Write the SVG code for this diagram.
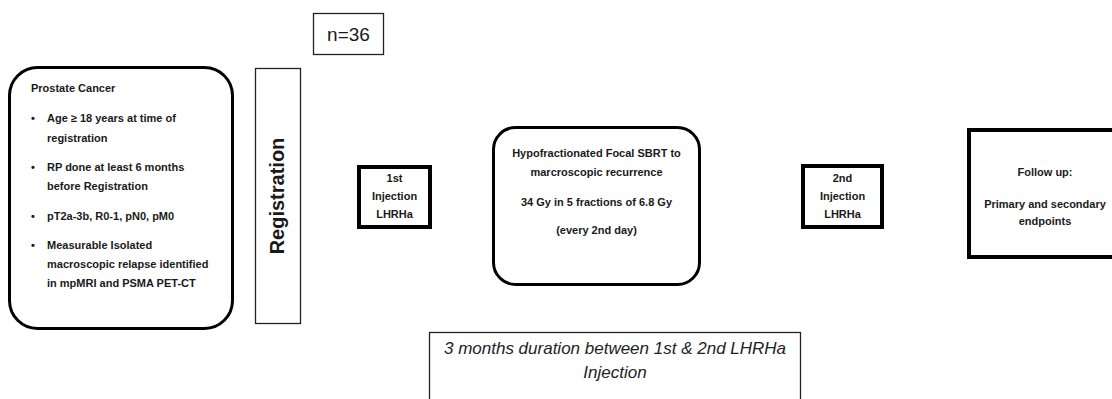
<svg xmlns="http://www.w3.org/2000/svg" width="1112" height="399" viewBox="0 0 1112 399">
<style>
.b{font-family:"Liberation Sans",Arial,sans-serif;font-weight:bold;font-size:11px;fill:#1a1a1a}
.c{text-anchor:middle}
.thin{fill:#fff;stroke:#222;stroke-width:1.3}
.thick{fill:#fff;stroke:#000;stroke-width:4}
.round{fill:#fff;stroke:#000;stroke-width:3}
</style>
<rect width="1112" height="399" fill="#fff"/>
<g id="criteria">
<rect class="round" x="9.5" y="67.5" width="223" height="261" rx="28"/>
<text class="b" x="31" y="92">Prostate Cancer</text>
<g class="b">
<text x="31" y="122">•</text><text x="47" y="122">Age ≥ 18 years at time of</text>
<text x="47" y="142">registration</text>
<text x="31" y="171">•</text><text x="47" y="171">RP done at least 6 months</text>
<text x="47" y="190">before Registration</text>
<text x="31" y="220">•</text><text x="47" y="220">pT2a-3b, R0-1, pN0, pM0</text>
<text x="31" y="249">•</text><text x="47" y="249">Measurable Isolated</text>
<text x="47" y="268">macroscopic relapse identified</text>
<text x="47" y="287">in mpMRI and PSMA PET-CT</text>
</g>
</g>
<g id="n36">
<rect class="thin" x="313.5" y="13.5" width="70" height="41"/>
<text x="348.5" y="41" font-family="Liberation Sans,Arial,sans-serif" font-size="19" fill="#1a1a1a" text-anchor="middle">n=36</text>
</g>
<g id="registration">
<rect class="thin" x="255.5" y="68.5" width="45" height="255"/>
<text transform="translate(284 196) rotate(-90)" font-family="Liberation Sans,Arial,sans-serif" font-weight="bold" font-size="20" fill="#1a1a1a" text-anchor="middle">Registration</text>
</g>
<g id="injection1">
<rect class="thick" x="359" y="167" width="71" height="60"/>
<text class="b c" x="394.5" y="182">1st</text>
<text class="b c" x="394.5" y="200">Injection</text>
<text class="b c" x="394.5" y="218">LHRHa</text>
</g>
<g id="sbrt">
<rect class="round" x="493.5" y="127.5" width="206" height="157" rx="22"/>
<text class="b c" x="596.5" y="157">Hypofractionated Focal SBRT to</text>
<text class="b c" x="596.5" y="176">marcroscopic recurrence</text>
<text class="b c" x="596.5" y="206">34 Gy in 5 fractions of 6.8 Gy</text>
<text class="b c" x="596.5" y="234">(every 2nd day)</text>
</g>
<g id="injection2">
<rect class="thick" x="803" y="166" width="79" height="61"/>
<text class="b c" x="842.5" y="182">2nd</text>
<text class="b c" x="842.5" y="200">Injection</text>
<text class="b c" x="842.5" y="218">LHRHa</text>
</g>
<g id="followup">
<rect class="thick" x="969" y="130" width="160" height="127"/>
<text class="b c" x="1045" y="176">Follow up:</text>
<text class="b c" x="1045" y="208">Primary and secondary</text>
<text class="b c" x="1045" y="225">endpoints</text>
</g>
<g id="duration">
<rect class="thin" x="429.5" y="332.5" width="371" height="80"/>
<text x="615" y="354" font-family="Liberation Sans,Arial,sans-serif" font-style="italic" font-size="17" fill="#222" text-anchor="middle">3 months duration between 1st &amp; 2nd LHRHa</text>
<text x="615" y="378" font-family="Liberation Sans,Arial,sans-serif" font-style="italic" font-size="17" fill="#222" text-anchor="middle">Injection</text>
</g>
<g id="connectors"/>
</svg>
